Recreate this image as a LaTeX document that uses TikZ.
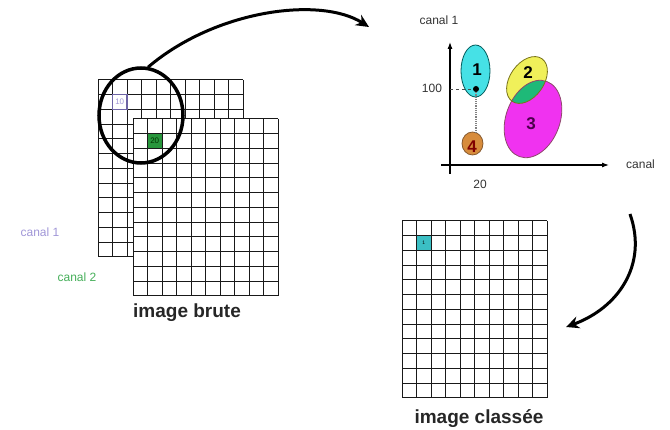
\documentclass[tikz,border=0pt]{standalone}
\usepackage{fontspec}
\setmainfont{Liberation Sans}
\usetikzlibrary{arrows.meta,shapes.geometric}

\definecolor{lavande}{RGB}{160,150,215}
\definecolor{bordlav}{RGB}{110,100,165}
\definecolor{vertcanal}{RGB}{70,175,90}
\definecolor{vertpix}{RGB}{40,150,60}
\definecolor{cyanclus}{RGB}{70,225,230}
\definecolor{jauneclus}{RGB}{240,240,90}
\definecolor{magclus}{RGB}{240,50,240}
\definecolor{orangeclus}{RGB}{215,140,60}
\definecolor{vertinter}{RGB}{30,185,120}

% 10 x 12 pixel grid, top left corner at (#1,#2)
\newcommand{\pixgrid}[2]{%
  \fill[white] (#1,#2) rectangle ++(145,177);
  \foreach \i in {0,...,10}
    \draw[gridline] ({#1+14.5*\i},#2) -- ++(0,177);
  \foreach \j in {0,...,12}
    \draw[gridline] (#1,{#2+14.75*\j}) -- ++(145,0);
}

\begin{document}
\begin{tikzpicture}[
  x=1pt, y=-1pt,
  gridline/.style={line width=1pt, black!90},
  lbl/.style={inner sep=1pt, text=black!80, font=\fontsize{12}{12}\selectfont},
  title/.style={inner sep=0pt, anchor=base, text=black!85, font=\fontsize{19}{19}\selectfont\bfseries},
  num/.style={inner sep=0pt, font=\fontsize{17}{17}\selectfont\bfseries},
  cluster/.style={line width=0.8pt},
  bigarrow/.style={line width=3pt, -{Stealth[length=13pt,width=12pt]}},
  axis/.style={line width=1.1pt, -{Latex[length=7pt,width=5pt]}}
]
\useasboundingbox (0,0) rectangle (670,430);

% raw image: two channels
\pixgrid{98}{80}
\draw[bordlav, line width=1.5pt] (112.5,94.75) rectangle ++(14.5,14.75);
\node[inner sep=0pt, text=lavande, font=\fontsize{8}{8}\selectfont] (p10) at (119.75,102.1) {10};
\pixgrid{133}{119}
\fill[vertpix] (147.5,133.75) rectangle ++(14.5,14.75);
\node[inner sep=0pt, text=green!20!black, font=\fontsize{8}{8}\selectfont] (p20) at (154.75,141.1) {20};

\node[lbl, text=lavande] (canal1) at (40,232) {canal 1};
\node[lbl, text=vertcanal] (canal2) at (77,277) {canal 2};
\node[title] (brute) at (187,318) {image brute};

% magnifier
\node[draw, ellipse, line width=3.5pt, minimum width=84pt, minimum height=95pt] (loupe) at (141,115.5) {};

% feature space
\coordinate (orig) at (450,165);
\draw[axis] (450,174) -- (450,42) coordinate (ytop);
\draw[axis] (441,165) -- (609,165) coordinate (xend);
\node[lbl, anchor=base] (yname) at (439,25) {canal 1};
\node[lbl, anchor=base west] (xname) at (625,169) {canal};

\begin{scope}
  \fill[magclus, rotate around={70:(533,119)}] (533,119) ellipse [x radius=40, y radius=27];
  \fill[jauneclus, rotate around={55:(527,80)}] (527,80) ellipse [x radius=26, y radius=17];
  \clip[rotate around={55:(527,80)}] (527,80) ellipse [x radius=26, y radius=17];
  \fill[vertinter, rotate around={70:(533,119)}] (533,119) ellipse [x radius=40, y radius=27];
\end{scope}
\draw[cluster, magenta!50!black, rotate around={70:(533,119)}] (533,119) ellipse [x radius=40, y radius=27];
\draw[cluster, olive!80!black, rotate around={55:(527,80)}] (527,80) ellipse [x radius=26, y radius=17];
\filldraw[cluster, fill=cyanclus, draw=teal!70!black] (475.5,71) ellipse [x radius=14.5, y radius=26];
\filldraw[cluster, fill=orangeclus, draw=brown!70!black] (472.5,143.5) ellipse [x radius=10.5, y radius=11.5];

\node[num] (k1) at (477,70) {1};
\node[num] (k2) at (528,73) {2};
\node[num, text=violet!60!black] (k3) at (531,124) {3};
\node[num, text=red!50!black] (k4) at (472,147) {4};

% pixel (20,100)
\node[circle, fill=black, inner sep=0pt, minimum size=6pt] (pt) at (476,89) {};
\draw[black!70, dashed, line width=0.8pt] (450,89) -- (pt);
\draw[black!50, densely dotted, line width=1.2pt] (pt) -- (476,132);
\node[lbl] (v100) at (432,88) {100};
\node[lbl] (v20) at (480,184) {20};

% classified image
\pixgrid{402}{221}
\fill[cyanclus!85!black] (416.5,235.75) rectangle ++(14.5,14.75);
\node[inner sep=0pt, font=\fontsize{5}{5}\selectfont] (c1) at (423.75,243.1) {1};
\node[title] (classee) at (479,424) {image classée};

% arrows
\coordinate (tip1) at (369,27);
\draw[bigarrow] (loupe.north) ++(7,1) .. controls (215,10) and (320,-4) .. (tip1);
\coordinate (start2) at (630,214);
\coordinate (tip2) at (566,327);
\draw[bigarrow] (start2) .. controls (648,265) and (618,308) .. (tip2);
\end{tikzpicture}
\end{document}
